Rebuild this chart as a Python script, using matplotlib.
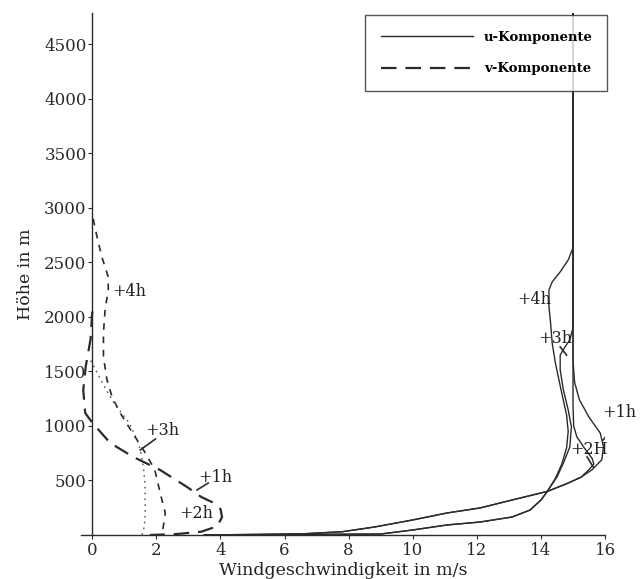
import matplotlib
matplotlib.use('Agg')
import matplotlib.pyplot as plt

plt.rcParams['font.family'] = 'DejaVu Serif'

# u-Komponente (m/s) gegen Hoehe (m)
u1_z = [0, 10, 30, 73, 138, 202, 248, 321, 400, 470, 530, 600, 690, 810, 935, 1080, 1240, 1400, 1600, 4790]
u1 = [3.5, 6.5, 7.8, 8.8, 10.0, 11.07, 12.1, 13.1, 14.2, 14.8, 15.25, 15.6, 15.9, 15.95, 15.85, 15.5, 15.2, 15.05, 15.0, 15.0]

u2_z = [0, 10, 30, 73, 138, 202, 248, 321, 400, 470, 530, 600, 650, 700, 800, 900, 1000, 1200, 4790]
u2 = [3.5, 6.5, 7.8, 8.8, 10.0, 11.07, 12.1, 13.1, 14.2, 14.8, 15.25, 15.5, 15.65, 15.6, 15.35, 15.12, 15.02, 15.0, 15.0]

u3_z = [0, 9, 46, 92, 119, 165, 229, 321, 400, 532, 660, 807, 991, 1147, 1330, 1514, 1650, 1725, 1790, 1900, 2050, 4790]
u3 = [3.5, 9.0, 10.0, 11.07, 12.1, 13.1, 13.66, 14.0, 14.2, 14.5, 14.7, 14.9, 14.95, 14.85, 14.7, 14.6, 14.6, 14.75, 14.9, 15.0, 15.0, 15.0]

u4_z = [0, 9, 46, 92, 119, 165, 229, 321, 400, 520, 650, 800, 950, 1100, 1300, 1578, 1761, 1945, 2092, 2248, 2321, 2413, 2523, 2633, 4790]
u4 = [3.5, 9.0, 10.0, 11.07, 12.1, 13.1, 13.66, 14.0, 14.2, 14.45, 14.65, 14.8, 14.85, 14.8, 14.65, 14.45, 14.35, 14.3, 14.25, 14.25, 14.35, 14.6, 14.85, 15.0, 15.0]

# v-Komponente
v1_z = [2050, 1800, 1550, 1330, 1120, 1030, 844, 716, 596, 440, 349, 300, 240, 165, 80, 30, 8, 0]
v1 = [0.0, -0.05, -0.2, -0.28, -0.22, 0.0, 0.56, 1.28, 2.12, 2.96, 3.4, 3.75, 4.0, 4.05, 3.9, 3.4, 2.6, 1.8]

v3_z = [1600, 1490, 1350, 1200, 1030, 870, 780, 620, 450, 300, 150, 40, 0]
v3 = [-0.05, 0.15, 0.4, 0.7, 1.15, 1.4, 1.5, 1.6, 1.65, 1.65, 1.65, 1.6, 1.55]

v4_z = [2900, 2734, 2550, 2367, 2248, 2064, 1853, 1633, 1422, 1266, 1120, 940, 780, 600, 385, 202, 46, 0]
v4 = [0.03, 0.15, 0.3, 0.5, 0.5, 0.4, 0.35, 0.35, 0.46, 0.62, 0.87, 1.25, 1.6, 1.95, 2.12, 2.28, 2.2, 2.15]

# Beschriftungen: Text, Textposition, Zeigerspitze (None = ohne Zeiger)
labels = ['+4h', '+3h', '+1h', '+2h', '+4h', '+3h', '+1h', '+2H']
label_xy = [(0.62, 2230), (1.65, 960), (3.3, 530), (2.7, 200),
            (13.25, 2160), (13.9, 1800), (15.9, 1125), (14.9, 780)]
label_tip = [None, (1.5, 780), (3.27, 413), None,
             None, (14.6, 1725), (15.94, 871), (15.63, 624)]
label_base = [None, (1.97, 880), (3.62, 477), None,
              None, (14.8, 1650), (16.4, 1037), (15.44, 716)]

col = '#2b2b2b'
fig = plt.figure(figsize=(6.43, 5.79), dpi=100)
ax = fig.add_axes([0.126, 0.076, 0.815, 0.902])

l_u, = ax.plot(u1, u1_z, color=col, lw=1.0, label='u-Komponente')
ax.plot(u2, u2_z, color=col, lw=1.0)
ax.plot(u3, u3_z, color=col, lw=1.0)
ax.plot(u4, u4_z, color=col, lw=1.0)

l_v, = ax.plot(v1, v1_z, color=col, lw=1.6, dashes=(7, 4), label='v-Komponente')
ax.plot(v3, v3_z, color='#555555', lw=1.0, dashes=(1.2, 3))
ax.plot(v4, v4_z, color=col, lw=1.2, dashes=(4, 4))

for txt, pos, tip, base in zip(labels, label_xy, label_tip, label_base):
    ax.text(pos[0], pos[1], txt, fontsize=11.5, va='center', ha='left', color='#222222')
    if tip is not None:
        ax.plot([tip[0], base[0]], [tip[1], base[1]], color=col, lw=1.2)

ax.set_xlim(-0.35, 16)
ax.set_ylim(0, 4790)
ax.spines['left'].set_position(('data', 0))
ax.spines['top'].set_visible(False)
ax.spines['right'].set_visible(False)
for s in ['left', 'bottom']:
    ax.spines[s].set_color(col)
    ax.spines[s].set_linewidth(1.0)

ax.set_xticks(range(0, 17, 2))
ax.set_yticks(range(500, 4501, 500))
ax.tick_params(labelsize=12, length=3, width=0.8, colors=col, pad=2)
ax.tick_params(axis='y', pad=1)
ax.set_xlabel('Windgeschwindigkeit in m/s', fontsize=12.5, labelpad=2, color='#222222')
ax.set_ylabel('Höhe in m', fontsize=12.5, color='#222222')
ax.yaxis.set_label_coords(-0.09, 0.5)

leg = ax.legend(handles=[l_u, l_v], loc='upper left', bbox_to_anchor=(0.542, 0.849, 0.462, 0.147),
                mode='expand', prop={'size': 9.5, 'weight': 'bold'}, handlelength=7.0,
                borderpad=1.2, labelspacing=1.4, borderaxespad=0, fancybox=False, frameon=True)
leg.get_frame().set_edgecolor(col)
leg.get_frame().set_linewidth(1.0)

fig.savefig('out.png', dpi=100)
